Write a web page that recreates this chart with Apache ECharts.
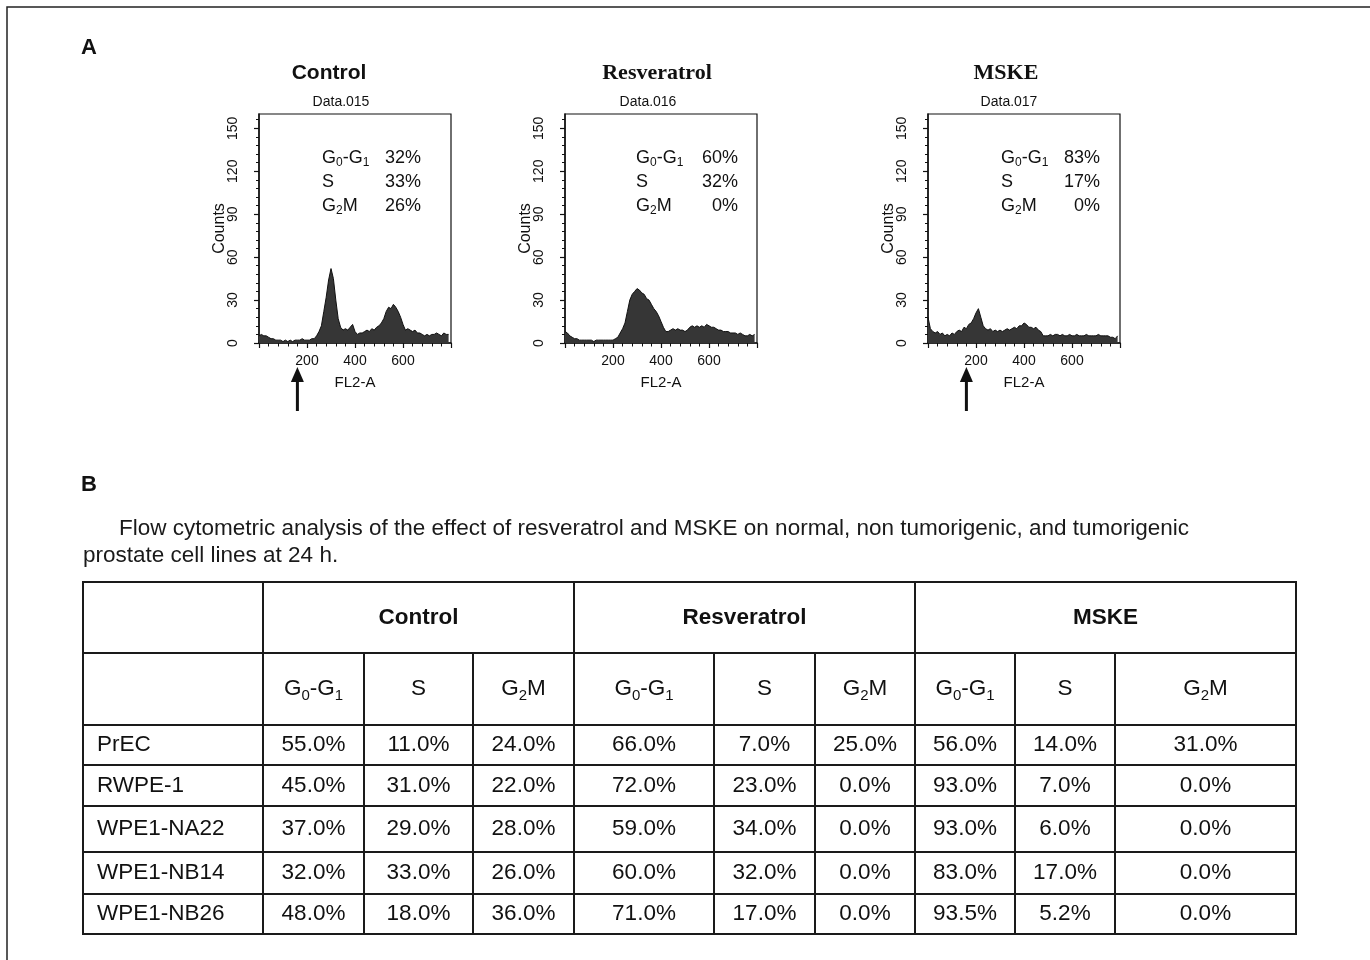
<!DOCTYPE html>
<html>
<head>
<meta charset="utf-8">
<title>Cell cycle analysis – resveratrol and MSKE</title>
<script src="https://cdn.jsdelivr.net/npm/echarts@6/dist/echarts.min.js"></script>
<style>
  html, body { margin: 0; padding: 0; background: #fff; }
  #chart { width: 1370px; height: 960px; }
</style>
</head>
<body>
<div id="chart"></div>
<script>
// ---------- Panel A: DNA content histograms (FL2-A channel vs counts) ----------
const fl2Channels = Array.from({ length: 80 }, (_, i) => i * 10);

const controlCounts = [
  5, 6, 5, 5, 4, 3, 3, 2, 2, 2,
  1, 2, 1, 2, 1, 2, 2, 2, 3, 2,
  2, 2, 3, 3, 5, 8, 12, 22, 32, 44,
  52, 45, 30, 17, 11, 9, 10, 9, 11, 13,
  8, 6, 7, 7, 8, 9, 8, 10, 9, 11,
  12, 14, 17, 22, 25, 24, 27, 25, 22, 18,
  13, 9, 10, 9, 8, 9, 7, 7, 6, 5,
  6, 5, 6, 6, 7, 6, 5, 7, 6, 6
];
const resveratrolCounts = [
  8, 7, 5, 4, 3, 3, 2, 2, 2, 2,
  2, 2, 1, 2, 2, 2, 2, 2, 2, 2,
  2, 3, 4, 7, 10, 14, 22, 30, 34, 36,
  38, 37, 35, 34, 31, 30, 27, 24, 22, 19,
  15, 11, 8, 8, 9, 10, 9, 10, 9, 9,
  8, 9, 11, 12, 11, 12, 11, 12, 11, 13,
  12, 11, 11, 10, 9, 9, 8, 8, 8, 7,
  7, 7, 6, 7, 6, 5, 5, 6, 5, 6
];
const mskeCounts = [
  18, 10, 8, 7, 8, 6, 7, 5, 6, 5,
  7, 6, 8, 9, 8, 11, 10, 13, 14, 17,
  21, 24, 18, 12, 10, 9, 10, 8, 9, 8,
  9, 8, 9, 10, 9, 10, 11, 10, 12, 12,
  14, 13, 11, 11, 10, 11, 9, 8, 5, 5,
  5, 6, 5, 6, 6, 5, 6, 5, 5, 6,
  5, 5, 6, 5, 5, 5, 6, 5, 5, 5,
  5, 6, 5, 5, 5, 5, 4, 4, 3, 5
];

const panelNames = ['Control', 'Resveratrol', 'MSKE'];
const panelFiles = ['Data.015', 'Data.016', 'Data.017'];
const controlPhasePct = [32, 33, 26];
const resveratrolPhasePct = [60, 32, 0];
const mskePhasePct = [83, 17, 0];
const gateMarkers = [160, null, 160];   // FL2-A channel marked by an arrow
const countTicks = [0, 30, 60, 90, 120, 150];
const fl2Ticks = [200, 400, 600];

// ---------- Panel B: table ----------
const cellLines = ['PrEC', 'RWPE-1', 'WPE1-NA22', 'WPE1-NB14', 'WPE1-NB26'];
const treatments = ['Control', 'Resveratrol', 'MSKE'];
const ctrlG0G1 = [55.0, 45.0, 37.0, 32.0, 48.0];
const ctrlS    = [11.0, 31.0, 29.0, 33.0, 18.0];
const ctrlG2M  = [24.0, 22.0, 28.0, 26.0, 36.0];
const resG0G1  = [66.0, 72.0, 59.0, 60.0, 71.0];
const resS     = [7.0, 23.0, 34.0, 32.0, 17.0];
const resG2M   = [25.0, 0.0, 0.0, 0.0, 0.0];
const mskeG0G1 = [56.0, 93.0, 93.0, 83.0, 93.5];
const mskeS    = [14.0, 7.0, 6.0, 17.0, 5.2];
const mskeG2M  = [31.0, 0.0, 0.0, 0.0, 0.0];
const captionLines = [
  'Flow cytometric analysis of the effect of resveratrol and MSKE on normal, non tumorigenic, and tumorigenic',
  'prostate cell lines at 24 h.'
];

// ---------- layout & style ----------
const SANS = "'Liberation Sans', Arial, Helvetica, sans-serif";
const SERIF = "'Liberation Serif', 'Times New Roman', serif";
const INK = '#111';
const panelLeft = [259, 565, 928];
const panelTop = 114, panelW = 192, panelH = 229;
const titleCenterX = [329, 657, 1006];
const titleFont = [SANS, SERIF, SERIF];
const fileCenterX = [341, 648, 1009];
const insetLeft = [63, 71, 73];
const insetRight = [162, 173, 172];
const insetRowY = [44, 68, 92];
const tableBox = { left: 83, top: 582, width: 1213, height: 352 };
const colEdges = [0, 180, 281, 390, 491, 631, 732, 832, 932, 1032, 1213];
const rowEdges = [0, 71, 143, 183, 224, 270, 312, 352];
const TABLE_FONT = 22.5;

const phaseRich = ['{n|G}{s|0}{n|-G}{s|1}', '{n|S}', '{n|G}{s|2}{n|M}'];
const histCounts = [controlCounts, resveratrolCounts, mskeCounts];
const phasePct = [controlPhasePct, resveratrolPhasePct, mskePhasePct];

const countMinorTicks = [];
for (let v = 6; v <= 156; v += 6) if (v % 30 !== 0) countMinorTicks.push(v);

// table cells: column/row spans plus display text
const tableValues = [ctrlG0G1, ctrlS, ctrlG2M, resG0G1, resS, resG2M, mskeG0G1, mskeS, mskeG2M];
const tableCells = [];
tableCells.push({ c0: 0, c1: 1, r: 0, text: '' });
treatments.forEach((t, k) => tableCells.push({ c0: 1 + 3 * k, c1: 4 + 3 * k, r: 0, text: '{b|' + t + '}' }));
tableCells.push({ c0: 0, c1: 1, r: 1, text: '' });
for (let c = 1; c <= 9; c++) tableCells.push({ c0: c, c1: c + 1, r: 1, text: phaseRich[(c - 1) % 3] });
cellLines.forEach((name, i) => {
  tableCells.push({ c0: 0, c1: 1, r: i + 2, text: '{n|' + name + '}', align: 'left' });
  tableValues.forEach((arr, j) => {
    tableCells.push({ c0: j + 1, c1: j + 2, r: i + 2, text: '{n|' + arr[i].toFixed(1) + '%}' });
  });
});

const tableRich = {
  n: { fontSize: TABLE_FONT, fontFamily: SANS, lineHeight: 28, fill: INK },
  s: { fontSize: 15, fontFamily: SANS, lineHeight: 13, verticalAlign: 'bottom', fill: INK },
  b: { fontSize: TABLE_FONT, fontFamily: SANS, fontWeight: 'bold', lineHeight: 28, fill: INK }
};
const insetRich = {
  n: { fontSize: 18, fontFamily: SANS, lineHeight: 22, fill: INK },
  s: { fontSize: 12, fontFamily: SANS, lineHeight: 10, verticalAlign: 'bottom', fill: INK }
};

// ---------- option ----------
const grids = [], xAxes = [], yAxes = [], series = [];
panelNames.forEach((name, i) => {
  grids.push({
    left: panelLeft[i], top: panelTop, width: panelW, height: panelH,
    show: true, borderColor: INK, borderWidth: 1.2, backgroundColor: '#fff'
  });
  xAxes.push({
    gridIndex: i, type: 'value', min: 0, max: 800, interval: 200,
    axisLine: { show: true, onZero: false, lineStyle: { color: INK, width: 1.5 } },
    axisTick: { show: true, length: 5, lineStyle: { color: INK, width: 1.2 } },
    minorTick: { show: true, splitNumber: 5, length: 3.5, lineStyle: { color: INK, width: 1 } },
    axisLabel: { customValues: fl2Ticks, fontSize: 14, fontFamily: SANS, color: INK, margin: 11 },
    splitLine: { show: false },
    name: 'FL2-A', nameLocation: 'middle', nameGap: 32, nameMoveOverlap: false,
    nameTextStyle: { fontSize: 15, fontFamily: SANS, color: INK }
  });
});
panelNames.forEach((name, i) => {
  yAxes.push({
    gridIndex: i, type: 'value', min: 0, max: 160,
    axisLine: { show: true, onZero: false, lineStyle: { color: INK, width: 1.5 } },
    axisTick: { show: true, length: 5, customValues: countTicks, lineStyle: { color: INK, width: 1.2 } },
    axisLabel: { customValues: countTicks, rotate: 90, fontSize: 14, fontFamily: SANS, color: INK, margin: 19 },
    splitLine: { show: false },
    name: 'Counts', nameLocation: 'middle', nameGap: 31, nameMoveOverlap: false,
    nameTextStyle: { fontSize: 16, fontFamily: SANS, color: INK }
  });
});
panelNames.forEach((name, i) => {
  yAxes.push({
    gridIndex: i, type: 'value', min: 0, max: 160, position: 'left',
    axisLine: { show: false },
    axisTick: { show: true, length: 3, customValues: countMinorTicks, lineStyle: { color: INK, width: 1 } },
    axisLabel: { show: false }, splitLine: { show: false }
  });
  series.push({
    type: 'line', xAxisIndex: i, yAxisIndex: i,
    data: fl2Channels.map((x, k) => [x, histCounts[i][k]]),
    symbol: 'none', silent: true,
    lineStyle: { color: INK, width: 1 },
    areaStyle: { color: '#363636', opacity: 1 }
  });
});

grids.push({ left: tableBox.left, top: tableBox.top, width: tableBox.width, height: tableBox.height, show: false });
xAxes.push({ gridIndex: 3, type: 'value', min: 0, max: colEdges[colEdges.length - 1], show: false });
yAxes.push({ gridIndex: 3, type: 'value', min: 0, max: rowEdges[rowEdges.length - 1], inverse: true, show: false });
series.push({
  type: 'custom', coordinateSystem: 'cartesian2d', xAxisIndex: 3, yAxisIndex: 6,
  clip: false, silent: true,
  data: tableCells.map(c => [colEdges[c.c0], rowEdges[c.r], colEdges[c.c1], rowEdges[c.r + 1]]),
  encode: { x: [0, 2], y: [1, 3] },
  renderItem: function (params, api) {
    const cell = tableCells[params.dataIndex];
    const p0 = api.coord([api.value(0), api.value(1)]);
    const p1 = api.coord([api.value(2), api.value(3)]);
    const w = p1[0] - p0[0], h = p1[1] - p0[1];
    const children = [{
      type: 'rect', shape: { x: p0[0], y: p0[1], width: w, height: h },
      style: { fill: 'none', stroke: '#1a1a1a', lineWidth: 2 }
    }];
    if (cell.text) {
      const left = cell.align === 'left';
      children.push({
        type: 'text',
        x: left ? p0[0] + 14 : p0[0] + w / 2,
        y: p0[1] + h / 2,
        style: {
          text: cell.text, rich: tableRich,
          align: left ? 'left' : 'center', verticalAlign: 'middle',
          fontSize: TABLE_FONT, fontFamily: SANS, fill: INK
        }
      });
    }
    return { type: 'group', children: children };
  }
});

const chart = echarts.init(document.getElementById('chart'), null, { renderer: 'canvas' });
chart.setOption({
  animation: false,
  backgroundColor: '#fff',
  grid: grids, xAxis: xAxes, yAxis: yAxes, series: series
});

// ---------- annotations ----------
const graphics = [];
graphics.push({ type: 'rect', shape: { x: 7, y: 7, width: 1400, height: 1000 },
  style: { fill: 'none', stroke: '#222', lineWidth: 1.5 }, silent: true });
graphics.push({ type: 'text', x: 81, y: 48, style: { text: 'A', fontSize: 22, fontWeight: 'bold', fontFamily: SANS, fill: INK, verticalAlign: 'middle' } });
graphics.push({ type: 'text', x: 81, y: 485, style: { text: 'B', fontSize: 22, fontWeight: 'bold', fontFamily: SANS, fill: INK, verticalAlign: 'middle' } });
graphics.push({ type: 'text', x: 119, y: 529, style: { text: captionLines[0], fontSize: 22.5, fontFamily: SANS, fill: '#1a1a1a', verticalAlign: 'middle' } });
graphics.push({ type: 'text', x: 83, y: 556, style: { text: captionLines[1], fontSize: 22.5, fontFamily: SANS, fill: '#1a1a1a', verticalAlign: 'middle' } });

panelNames.forEach((name, i) => {
  graphics.push({ type: 'text', x: titleCenterX[i], y: 73,
    style: { text: name, fontSize: i === 0 ? 21 : 22, fontWeight: 'bold', fontFamily: titleFont[i], fill: INK, align: 'center', verticalAlign: 'middle' } });
  graphics.push({ type: 'text', x: fileCenterX[i], y: 102,
    style: { text: panelFiles[i], fontSize: 14, fontFamily: SANS, fill: INK, align: 'center', verticalAlign: 'middle' } });
  phaseRich.forEach((label, k) => {
    graphics.push({ type: 'text', x: panelLeft[i] + insetLeft[i], y: panelTop + insetRowY[k],
      style: { text: label, rich: insetRich, fontSize: 18, fontFamily: SANS, fill: INK, align: 'left', verticalAlign: 'middle' } });
    graphics.push({ type: 'text', x: panelLeft[i] + insetRight[i], y: panelTop + insetRowY[k],
      style: { text: phasePct[i][k] + '%', fontSize: 18, fontFamily: SANS, fill: INK, align: 'right', verticalAlign: 'middle' } });
  });
  if (gateMarkers[i] !== null) {
    const px = chart.convertToPixel({ xAxisIndex: i }, gateMarkers[i]);
    graphics.push({ type: 'line', shape: { x1: px, y1: 411, x2: px, y2: 378 }, style: { stroke: INK, lineWidth: 3 } });
    graphics.push({ type: 'polygon', shape: { points: [[px, 367], [px - 6.5, 382], [px + 6.5, 382]] }, style: { fill: INK } });
  }
});

chart.setOption({ graphic: graphics });
</script>
</body>
</html>
